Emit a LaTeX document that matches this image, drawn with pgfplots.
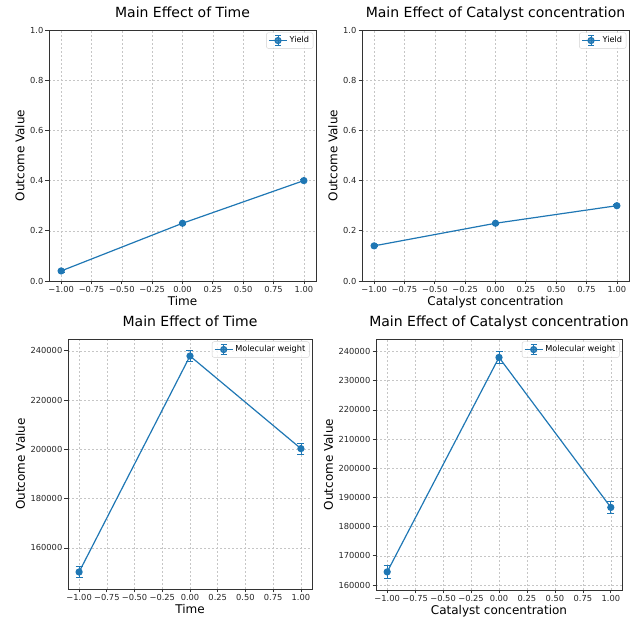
\documentclass[border=0pt]{standalone}
\usepackage{fontspec}
\setmainfont{DejaVu Sans}
\usepackage{pgfplots}
\pgfplotsset{compat=1.18}
\definecolor{tabblue}{RGB}{31,119,180}

\pgfplotsset{
  mpl/.style={
    scale only axis, anchor=south west,
    /pgf/number format/assume math mode=true,
    tick align=outside, xtick pos=bottom, ytick pos=left,
    major tick length=3.5pt,
    grid=major,
    grid style={dash pattern=on 2pt off 2pt, gray!45, line width=0.5pt},
    axis line style={black!80, line width=0.8pt},
    tick style={black!80, line width=0.7pt},
    xmin=-1.1, xmax=1.1,
    xtick={-1,-0.75,-0.5,-0.25,0,0.25,0.5,0.75,1},
    xticklabels={−1.00,−0.75,−0.50,−0.25,0.00,0.25,0.50,0.75,1.00},
    scaled y ticks=false,
    ticklabel style={font=\fontsize{8.3}{10}\selectfont, text=black!85},
    xticklabel style={inner sep=2pt},
    yticklabel style={inner sep=2pt},
    ylabel style={font=\fontsize{12}{14}\selectfont},
    every axis x label/.style={at={(ticklabel cs:0.5)}, anchor=north,
      inner sep=1.5pt, font=\fontsize{12}{14}\selectfont},
    title style={font=\fontsize{14}{16}\selectfont, at={(0.5,1)}, anchor=base, yshift=6.5pt},
    ylabel={Outcome Value},
    legend style={at={(0.99,0.99)}, anchor=north east,
      font=\fontsize{8.2}{10}\selectfont, draw=gray!35, rounded corners=2pt,
      fill=white, fill opacity=0.8, text opacity=1, inner sep=2pt},
    legend image code/.code={
      \draw[tabblue, line width=1.2pt] (0pt,0pt) -- (18pt,0pt);
      \draw[tabblue, line width=0.8pt] (9pt,-5pt) -- (9pt,5pt)
        (6pt,-5pt) -- (12pt,-5pt) (6pt,5pt) -- (12pt,5pt);
      \fill[tabblue] (9pt,0pt) circle (3pt);
    },
  },
  series/.style={
    tabblue, line width=1.2pt, mark=*, mark size=3pt,
    mark options={fill=tabblue, draw=tabblue},
    error bars/.cd, y dir=both, y explicit,
    error bar style={tabblue, line width=0.8pt},
    error mark options={tabblue, mark size=3.5pt, line width=0.8pt, rotate=90},
  },
}

\begin{document}
\begin{tikzpicture}
\path[use as bounding box] (0,0) rectangle (630pt,618pt);

% top left: yield vs time
\begin{axis}[mpl, at={(49pt,337pt)}, width=267pt, height=251pt,
  title={Main Effect of Time}, xlabel={Time},
  ymin=0, ymax=1, ytick={0,0.2,0.4,0.6,0.8,1},
  yticklabels={0.0,0.2,0.4,0.6,0.8,1.0}]
\addplot[series] coordinates {(-1,0.04) +- (0,0.004) (0,0.23) +- (0,0.004) (1,0.40) +- (0,0.004)};
\legend{Yield}
\end{axis}

% top right: yield vs catalyst
\begin{axis}[mpl, at={(362pt,337pt)}, width=267pt, height=251pt,
  title={Main Effect of Catalyst concentration}, xlabel={Catalyst concentration},
  ymin=0, ymax=1, ytick={0,0.2,0.4,0.6,0.8,1},
  yticklabels={0.0,0.2,0.4,0.6,0.8,1.0}]
\addplot[series] coordinates {(-1,0.14) +- (0,0.004) (0,0.23) +- (0,0.004) (1,0.30) +- (0,0.004)};
\legend{Yield}
\end{axis}

% bottom left: molecular weight vs time
\begin{axis}[mpl, at={(68pt,29pt)}, width=244pt, height=250pt,
  title={Main Effect of Time}, xlabel={Time},
  ymin=143300, ymax=244800,
  ytick={160000,180000,200000,220000,240000},
  yticklabels={160000,180000,200000,220000,240000}]
\addplot[series] coordinates {(-1,150200) +- (0,2300) (0,237900) +- (0,2200) (1,200300) +- (0,2200)};
\legend{Molecular weight}
\end{axis}

% bottom right: molecular weight vs catalyst
\begin{axis}[mpl, at={(376pt,28pt)}, width=246pt, height=251pt,
  title={Main Effect of Catalyst concentration}, xlabel={Catalyst concentration},
  ymin=158300, ymax=244300,
  ytick={160000,170000,180000,190000,200000,210000,220000,230000,240000},
  yticklabels={160000,170000,180000,190000,200000,210000,220000,230000,240000}]
\addplot[series] coordinates {(-1,164500) +- (0,2200) (0,238000) +- (0,2200) (1,186600) +- (0,2200)};
\legend{Molecular weight}
\end{axis}
\end{tikzpicture}
\end{document}
